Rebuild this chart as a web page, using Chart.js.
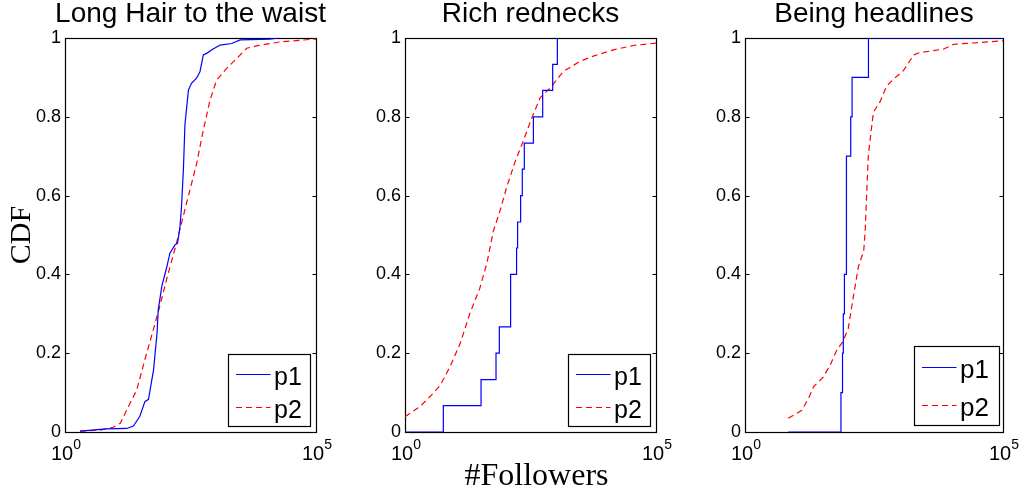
<!DOCTYPE html>
<html><head><meta charset="utf-8">
<script src="https://cdn.jsdelivr.net/npm/chart.js@4.4.1/dist/chart.umd.min.js"></script>
<style>
html,body{margin:0;padding:0;background:#fff;width:1019px;height:495px;overflow:hidden;}
.wrap{position:absolute;left:0;top:0;width:1019px;height:495px;}
</style></head><body>
<div class="wrap"><canvas id="c1"></canvas></div>
<div class="wrap"><canvas id="c2"></canvas></div>
<div class="wrap"><canvas id="c3"></canvas></div>
<script>
// ---- data ----
const titles = ["Long Hair to the waist", "Rich rednecks", "Being headlines"];
const seriesLabels = ["p1", "p2"];
const xTicks = [1, 100000];
const yTicks = [0, 0.2, 0.4, 0.6, 0.8, 1];
const yAxisLabel = "CDF";
const xAxisLabel = "#Followers";

// Long Hair to the waist
const hairP1x = [2, 6.8, 17, 23, 31, 39, 46, 58, 68, 72, 85, 107, 123, 155, 174, 195, 209, 229, 245, 288, 331, 417, 490, 569, 661, 891, 1230, 2089, 3090, 12023, 17783];
const hairP1y = [0.002, 0.008, 0.009, 0.015, 0.04, 0.077, 0.083, 0.157, 0.25, 0.31, 0.37, 0.42, 0.454, 0.475, 0.479, 0.52, 0.57, 0.67, 0.78, 0.868, 0.885, 0.898, 0.915, 0.957, 0.961, 0.972, 0.982, 0.986, 0.995, 0.997, 1.0];
const hairP2x = [2, 5, 9.1, 12.6, 17, 26.9, 38.9, 57.5, 77.6, 107, 166, 263, 417, 569, 776, 1047, 1660, 2630, 4169, 6607, 19055, 87096, 100000];
const hairP2y = [0.002, 0.005, 0.012, 0.022, 0.056, 0.107, 0.183, 0.26, 0.32, 0.39, 0.479, 0.58, 0.68, 0.766, 0.843, 0.893, 0.923, 0.948, 0.974, 0.98, 0.99, 0.997, 0.997];

// Rich rednecks
const richP1x = [1, 5.8, 32.7, 65, 75.7, 127, 167, 175, 201, 217, 238, 361, 553, 875, 1084];
const richP1y = [0, 0.067, 0.133, 0.2, 0.267, 0.4, 0.467, 0.533, 0.6, 0.667, 0.733, 0.8, 0.867, 0.933, 1.0];
const richP2x = [1, 2, 3.16, 5, 7.9, 12.6, 19.5, 30.9, 42.7, 57.5, 77.6, 107, 155, 229, 331, 490, 832, 1413, 3090, 5623, 14125, 35481, 100000];
const richP2y = [0.039, 0.065, 0.09, 0.118, 0.166, 0.225, 0.30, 0.365, 0.428, 0.51, 0.56, 0.623, 0.685, 0.74, 0.795, 0.848, 0.877, 0.915, 0.941, 0.954, 0.970, 0.981, 0.987];

// Being headlines
const headP1x = [6.9, 72.4, 77.6, 80.4, 84.5, 92.5, 112, 119, 247, 100000];
const headP1y = [0, 0.1, 0.2, 0.3, 0.4, 0.7, 0.8, 0.9, 1.0, 1.0];
const headP2x = [6.9, 12.6, 17, 21.4, 33.1, 44.7, 60.3, 77.6, 100, 126, 158, 200, 214, 229, 245, 275, 309, 417, 550, 759, 1175, 1862, 2291, 7079, 10965, 23442, 100000];
const headP2y = [0.035, 0.055, 0.085, 0.115, 0.14, 0.17, 0.208, 0.228, 0.262, 0.344, 0.42, 0.46, 0.513, 0.61, 0.70, 0.759, 0.812, 0.839, 0.877, 0.896, 0.917, 0.957, 0.962, 0.972, 0.984, 0.987, 0.993];

// ---- rendering ----
Chart.defaults.font.family = '"Liberation Sans", Arial, sans-serif';
Chart.defaults.color = '#000';

function zip(xs, ys) { return xs.map((x, i) => ({ x: x, y: ys[i] })); }

const SANS = '"Liberation Sans", Arial, sans-serif';
const SERIF = '"Liberation Serif", "Times New Roman", serif';

const decor = {
  id: 'decor',
  beforeDatasetsDraw(chart, args, o) {
    const { ctx, chartArea: a } = chart;
    ctx.save();
    ctx.strokeStyle = '#000';
    ctx.lineWidth = 1.2;
    const L = Math.round(a.left) + 0.5, T = Math.round(a.top) + 0.5;
    const R = Math.round(a.right) + 0.5, B = Math.round(a.bottom) + 0.5;
    ctx.strokeRect(L, T, R - L, B - T);
    const ys = chart.scales.y;
    ctx.lineWidth = 1;
    ctx.beginPath();
    yTicks.forEach(v => {
      const py = Math.round(ys.getPixelForValue(v)) + 0.5;
      ctx.moveTo(L, py); ctx.lineTo(L + 4, py);
      ctx.moveTo(R, py); ctx.lineTo(R - 4, py);
    });
    ctx.stroke();
    // x tick labels as 10^n
    const xs = chart.scales.x;
    ctx.fillStyle = '#000';
    ctx.textBaseline = 'alphabetic';
    ctx.textAlign = 'left';
    xTicks.forEach(v => {
      const px = xs.getPixelForValue(v);
      const base = '10', ex = String(Math.round(Math.log10(v)));
      ctx.font = '20px ' + SANS;
      const wb = ctx.measureText(base).width;
      ctx.font = '14px ' + SANS;
      const we = ctx.measureText(ex).width;
      const x0 = px - (wb + we) / 2 + 1;
      ctx.font = '20px ' + SANS;
      ctx.fillText(base, x0, a.bottom + 28);
      ctx.font = '14px ' + SANS;
      ctx.fillText(ex, x0 + wb, a.bottom + 16.5);
    });
    // title
    ctx.font = '28px ' + SANS;
    ctx.textAlign = 'center';
    ctx.fillText(o.title, (a.left + a.right) / 2, 21.5);
    // axis labels
    if (o.yLabel) {
      ctx.save();
      ctx.font = '30px ' + SERIF;
      ctx.translate(a.left - 35, (a.top + a.bottom) / 2);
      ctx.rotate(-Math.PI / 2);
      ctx.textAlign = 'center';
      ctx.fillText(o.yLabel, 0, 0);
      ctx.restore();
    }
    if (o.xLabel) {
      ctx.font = '32px ' + SERIF;
      ctx.textAlign = 'center';
      ctx.fillText(o.xLabel, (a.left + a.right) / 2 + 6, 485);
    }
    ctx.restore();
  },
  afterDatasetsDraw(chart, args, o) {
    const { ctx, chartArea: a } = chart;
    const lg = o.legend;
    ctx.save();
    const bx = Math.round(a.right - lg.insetR - lg.w) + 0.5;
    const by = Math.round(a.bottom - lg.insetB - lg.h) + 0.5;
    ctx.fillStyle = '#fff';
    ctx.fillRect(bx, by, lg.w, lg.h);
    ctx.strokeStyle = '#000';
    ctx.lineWidth = 1.2;
    ctx.strokeRect(bx, by, lg.w, lg.h);
    chart.data.datasets.forEach((ds, i) => {
      const ly = Math.round(by + lg.h * (i === 0 ? 0.265 : 0.735)) + 0.5;
      ctx.strokeStyle = ds.borderColor;
      ctx.lineWidth = ds.borderWidth;
      ctx.setLineDash(ds.borderDash || []);
      ctx.beginPath();
      ctx.moveTo(bx + 7.5, ly); ctx.lineTo(bx + 42, ly);
      ctx.stroke();
      ctx.setLineDash([]);
      ctx.fillStyle = '#000';
      ctx.font = lg.font + 'px ' + SANS;
      ctx.textAlign = 'left';
      ctx.textBaseline = 'alphabetic';
      ctx.fillText(ds.label, bx + 45.5, ly + lg.font * 0.4);
    });
    ctx.restore();
  }
};

function makeChart(id, cfg) {
  return new Chart(document.getElementById(id), {
    type: 'line',
    data: {
      datasets: [
        { label: seriesLabels[0], data: zip(cfg.p1x, cfg.p1y), borderColor: '#0000ff', borderWidth: 1.2,
          pointRadius: 0, fill: false, tension: 0, stepped: cfg.stepped },
        { label: seriesLabels[1], data: zip(cfg.p2x, cfg.p2y), borderColor: '#ff0000', borderWidth: 1.2,
          borderDash: [6, 4], pointRadius: 0, fill: false, tension: 0 }
      ]
    },
    options: {
      animation: false, responsive: true, maintainAspectRatio: false, devicePixelRatio: 1,
      events: [],
      layout: { padding: { left: cfg.left - 45, right: 1019 - cfg.right, top: 38, bottom: 495 - 432 - 40 } },
      plugins: {
        legend: { display: false }, tooltip: { enabled: false },
        decor: { title: cfg.title, yLabel: cfg.yLabel, xLabel: cfg.xLabel, legend: cfg.legend }
      },
      scales: {
        x: {
          type: 'logarithmic', min: xTicks[0], max: xTicks[xTicks.length - 1],
          afterBuildTicks: s => { s.ticks = xTicks.map(v => ({ value: v })); },
          afterFit: s => { s.height = 40; },
          grid: { display: false, drawTicks: false }, border: { display: false },
          ticks: { display: false }
        },
        y: {
          type: 'linear', min: 0, max: 1,
          afterBuildTicks: s => { s.ticks = yTicks.map(v => ({ value: v })); },
          afterFit: s => { s.width = 45; },
          grid: { display: false, drawTicks: false }, border: { display: false },
          ticks: { padding: 4, font: { size: 18 }, color: '#000',
            callback: (v) => String(Math.round(v * 10) / 10) }
        }
      }
    },
    plugins: [decor]
  });
}

makeChart('c1', { title: titles[0], p1x: hairP1x, p1y: hairP1y, p2x: hairP2x, p2y: hairP2y, stepped: false,
  left: 65, right: 316, yLabel: yAxisLabel, legend: { w: 82, h: 72, insetR: 6, insetB: 6, font: 25 } });
makeChart('c2', { title: titles[1], p1x: richP1x, p1y: richP1y, p2x: richP2x, p2y: richP2y, stepped: true,
  left: 405, right: 656, xLabel: xAxisLabel, legend: { w: 82, h: 72, insetR: 6, insetB: 6, font: 25 } });
makeChart('c3', { title: titles[2], p1x: headP1x, p1y: headP1y, p2x: headP2x, p2y: headP2y, stepped: true,
  left: 745, right: 1003, legend: { w: 85, h: 79, insetR: 4, insetB: 7, font: 26 } });
</script>
</body></html>
